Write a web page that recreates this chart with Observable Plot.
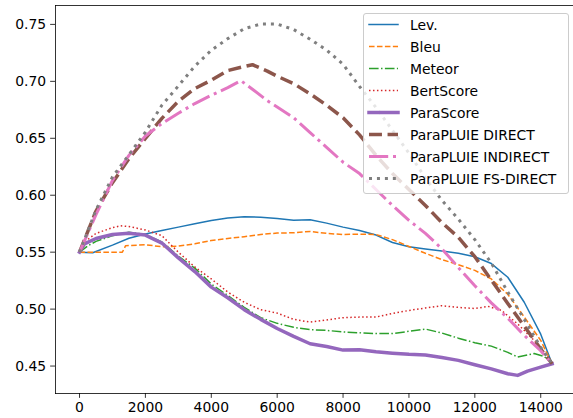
<!DOCTYPE html>
<html>
<head>
<meta charset="utf-8">
<script src="https://cdn.jsdelivr.net/npm/d3@7"></script>
<script src="https://cdn.jsdelivr.net/npm/@observablehq/plot@0.6"></script>
<style>
  html, body { margin: 0; padding: 0; background: #fff; overflow: hidden; }
  #wrap { position: relative; width: 573px; height: 418px; }
  #legend { position: absolute; box-sizing: border-box; background: rgba(255,255,255,0.8);
    border: 1px solid #cccccc; border-radius: 3px; font-family: "DejaVu Sans", sans-serif; font-size: 13.9px; color: #000; }
</style>
</head>
<body>
<div id="wrap"></div>
<script>
const seriesNames = ["Lev.", "Bleu", "Meteor", "BertScore", "ParaScore", "ParaPLUIE DIRECT", "ParaPLUIE INDIRECT", "ParaPLUIE FS-DIRECT"];
const xTicks = [0, 2000, 4000, 6000, 8000, 10000, 12000, 14000];
const yTicks = [0.45, 0.50, 0.55, 0.60, 0.65, 0.70, 0.75];

const lev = [[0,0.55],[400,0.5495],[1000,0.5562],[1500,0.5622],[2000,0.566],[2500,0.569],[3000,0.572],[3500,0.575],[4000,0.5778],[4500,0.58],[5000,0.5812],[5500,0.5807],[6000,0.5795],[6500,0.578],[7000,0.5785],[7500,0.5755],[8000,0.572],[8500,0.569],[9000,0.565],[9500,0.5585],[10000,0.5548],[10500,0.5528],[11000,0.551],[11500,0.549],[12000,0.546],[12500,0.540],[13000,0.528],[13500,0.506],[14000,0.478],[14346,0.452]];
const bleu = [[0,0.55],[500,0.55],[1000,0.55],[1300,0.55],[1400,0.5557],[2000,0.5565],[2500,0.5548],[3000,0.5553],[3500,0.5573],[4000,0.5603],[4500,0.562],[5000,0.5636],[5500,0.5655],[6000,0.5668],[6500,0.567],[7000,0.5682],[7500,0.5665],[8000,0.5655],[8500,0.5658],[9000,0.5655],[9500,0.561],[10000,0.555],[10500,0.549],[11000,0.5435],[11500,0.539],[12000,0.534],[12500,0.5265],[13000,0.513],[13500,0.493],[14000,0.4725],[14346,0.452]];
const meteor = [[0,0.55],[250,0.5555],[500,0.5595],[1000,0.5645],[1500,0.5675],[2000,0.5655],[2500,0.559],[3000,0.5465],[3500,0.536],[4000,0.522],[4500,0.512],[5000,0.5015],[5500,0.4925],[6000,0.4875],[6500,0.484],[7000,0.482],[7500,0.4813],[8000,0.48],[8500,0.4792],[9000,0.4785],[9500,0.4785],[10000,0.4805],[10500,0.4825],[11000,0.479],[11500,0.4745],[12000,0.4705],[12500,0.4675],[13000,0.462],[13300,0.458],[13800,0.461],[14100,0.4585],[14346,0.452]];
const bertScore = [[0,0.55],[150,0.559],[500,0.5665],[1000,0.5715],[1250,0.5732],[1500,0.5725],[2000,0.5695],[2500,0.5645],[3000,0.55],[3500,0.537],[4000,0.5265],[4500,0.515],[5000,0.506],[5500,0.4995],[6000,0.4965],[6500,0.491],[7000,0.4886],[7500,0.4905],[8000,0.4925],[8500,0.493],[9000,0.493],[9500,0.4962],[10000,0.4988],[10500,0.501],[11000,0.503],[11500,0.5015],[12000,0.5005],[12400,0.5024],[12800,0.499],[13300,0.487],[13800,0.4725],[14346,0.452]];
const paraScore = [[0,0.55],[150,0.5573],[500,0.562],[1000,0.5655],[1500,0.5667],[2000,0.565],[2500,0.558],[3000,0.545],[3500,0.533],[4000,0.5193],[4500,0.51],[5000,0.4995],[5500,0.491],[6000,0.483],[6500,0.476],[7000,0.4696],[7500,0.4672],[8000,0.464],[8500,0.4644],[9000,0.4625],[9500,0.4613],[10000,0.4603],[10500,0.4597],[11000,0.4575],[11500,0.455],[12000,0.4512],[12500,0.4475],[13000,0.4432],[13300,0.4418],[13600,0.4455],[14000,0.449],[14346,0.452]];
const direct = [[0,0.55],[500,0.586],[1000,0.611],[1500,0.632],[2000,0.65],[2500,0.6675],[3000,0.6825],[3500,0.6937],[4000,0.701],[4500,0.7095],[5000,0.713],[5250,0.7146],[5700,0.709],[6000,0.7045],[6500,0.698],[7000,0.689],[7500,0.679],[8000,0.668],[8500,0.653],[9000,0.635],[9500,0.619],[10000,0.605],[10500,0.591],[11000,0.576],[11500,0.563],[12000,0.546],[12500,0.5255],[13000,0.505],[13500,0.485],[14000,0.465],[14346,0.452]];
const indirect = [[0,0.55],[500,0.583],[1000,0.613],[1500,0.635],[2000,0.652],[2500,0.663],[3000,0.672],[3500,0.6805],[4000,0.6878],[4500,0.6945],[4900,0.7006],[5300,0.692],[5700,0.683],[6000,0.6775],[6500,0.668],[7000,0.655],[7500,0.642],[8000,0.629],[8500,0.619],[9000,0.605],[9500,0.591],[10000,0.578],[10500,0.5665],[11000,0.553],[11500,0.5365],[12000,0.5205],[12500,0.5055],[13000,0.492],[13500,0.477],[14000,0.4635],[14346,0.452]];
const fsDirect = [[0,0.55],[500,0.587],[1000,0.616],[1500,0.6355],[2000,0.6555],[2500,0.679],[3000,0.696],[3500,0.7133],[4000,0.7273],[4500,0.7375],[5000,0.7462],[5500,0.7503],[6000,0.7503],[6500,0.7455],[7000,0.737],[7500,0.7275],[8000,0.715],[8500,0.6955],[9000,0.677],[9500,0.657],[10000,0.637],[10500,0.615],[11000,0.5955],[11500,0.579],[12000,0.561],[12500,0.5405],[13000,0.515],[13500,0.491],[14000,0.4665],[14346,0.452]];

const seriesData = [lev, bleu, meteor, bertScore, paraScore, direct, indirect, fsDirect];

const styles = [
  {stroke: "#1f77b4", strokeWidth: 1.5, dash: null},
  {stroke: "#ff7f0e", strokeWidth: 1.5, dash: "5.55,2.4"},
  {stroke: "#2ca02c", strokeWidth: 1.5, dash: "9.6,2.4,1.5,2.4"},
  {stroke: "#d62728", strokeWidth: 1.5, dash: "1.5,2.475"},
  {stroke: "#9467bd", strokeWidth: 3.5, dash: null},
  {stroke: "#8c564b", strokeWidth: 3.5, dash: "12.95,5.6"},
  {stroke: "#e377c2", strokeWidth: 3, dash: "19.2,4.8,3,4.8"},
  {stroke: "#7f7f7f", strokeWidth: 3, dash: "3,4.95"}
];

const font = "DejaVu Sans";
const marks = [];
seriesData.forEach((pts, i) => {
  const s = styles[i];
  const opts = {x: d => d[0], y: d => d[1], stroke: s.stroke, strokeWidth: s.strokeWidth,
    strokeLinejoin: "round", strokeLinecap: s.dash ? "butt" : "square"};
  if (s.dash) opts.strokeDasharray = s.dash;
  marks.push(Plot.line(pts, opts));
});
marks.push(Plot.frame({anchor: "left", stroke: "#000", strokeWidth: 0.8}));
marks.push(Plot.frame({anchor: "top", stroke: "#000", strokeWidth: 0.8}));
marks.push(Plot.frame({anchor: "bottom", stroke: "#000", strokeWidth: 0.8}));
marks.push(Plot.axisX(xTicks, {tickSize: 4.86, tickPadding: 3.5, tickFormat: d => String(d), fontSize: 13.9, stroke: "#000", strokeWidth: 0.8, fill: "#000", label: null}));
marks.push(Plot.axisY(yTicks, {tickSize: 4.86, tickPadding: 4.5, tickFormat: d3.format(".2f"), fontSize: 13.9, stroke: "#000", strokeWidth: 0.8, fill: "#000", label: null}));

const chart = Plot.plot({
  width: 573, height: 418,
  marginLeft: 55, marginTop: 5, marginBottom: 25, marginRight: 0,
  style: {fontFamily: font, background: "#fff", overflow: "visible"},
  x: {domain: [-729, 14995]},
  y: {domain: [0.4259, 0.7666]},
  marks
});
const wrap = document.getElementById("wrap");
wrap.appendChild(chart);

// legend
const lg = d3.select(wrap).append("div").attr("id", "legend")
  .style("left", "362.5px").style("top", "13px").style("width", "206px").style("height", "181px");
const lsvg = lg.append("svg").attr("width", 204).attr("height", 179).style("position", "absolute").style("left", "0").style("top", "0");
seriesNames.forEach((name, i) => {
  const s = styles[i];
  const cy = 10.5 + i * 22;
  const ln = lsvg.append("line").attr("x1", 5).attr("x2", 34).attr("y1", cy).attr("y2", cy)
    .attr("stroke", s.stroke).attr("stroke-width", s.strokeWidth)
    .attr("stroke-linecap", s.dash ? "butt" : "square");
  if (s.dash) ln.attr("stroke-dasharray", s.dash);
  lsvg.append("text").attr("x", 46).attr("y", cy).attr("dy", "0.36em")
    .attr("font-family", font).attr("font-size", 13.9).attr("fill", "#000").text(name);
});
</script>
</body>
</html>
